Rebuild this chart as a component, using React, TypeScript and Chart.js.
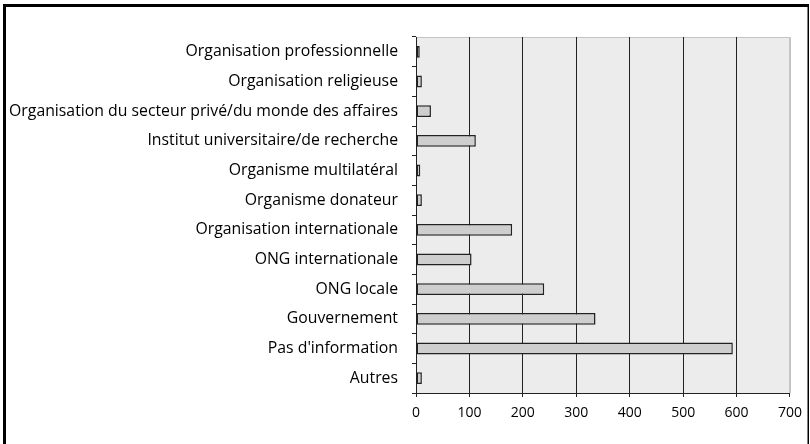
import React, { useEffect, useRef } from "react";
import { Chart, registerables } from "chart.js";

Chart.register(...registerables);

const categories: string[] = [
  "Organisation professionnelle",
  "Organisation religieuse",
  "Organisation du secteur privé/du monde des affaires",
  "Institut universitaire/de recherche",
  "Organisme multilatéral",
  "Organisme donateur",
  "Organisation internationale",
  "ONG internationale",
  "ONG locale",
  "Gouvernement",
  "Pas d'information",
  "Autres",
];

const values: number[] = [7, 11, 28, 112, 8, 11, 180, 104, 240, 336, 593, 11];

const xTicks: number[] = [0, 100, 200, 300, 400, 500, 600, 700];

const FONT = "'Open Sans', sans-serif";

const framePlugin = {
  id: "frameAndBg",
  beforeDraw(chart: any) {
    const { ctx, chartArea } = chart;
    ctx.save();
    ctx.fillStyle = "#ffffff";
    ctx.fillRect(0, 0, chart.width, chart.height);
    ctx.fillStyle = "#ececec";
    ctx.fillRect(chartArea.left, chartArea.top, chartArea.right - chartArea.left, chartArea.bottom - chartArea.top);
    ctx.strokeStyle = "#c4c4c4";
    ctx.lineWidth = 1;
    ctx.beginPath();
    ctx.moveTo(chartArea.left, chartArea.top + 0.5);
    ctx.lineTo(chartArea.right + 0.5, chartArea.top + 0.5);
    ctx.lineTo(chartArea.right + 0.5, chartArea.bottom);
    ctx.stroke();
    ctx.restore();
  },
  afterDraw(chart: any) {
    const { ctx } = chart;
    ctx.save();
    ctx.fillStyle = "#000000";
    ctx.fillRect(3, 4, 3, chart.height);
    ctx.fillRect(3, 4, chart.width - 4, 3);
    ctx.fillRect(chart.width - 2.5, 4, 1.5, chart.height);
    ctx.restore();
  },
};

export default function App() {
  const ref = useRef<HTMLCanvasElement | null>(null);

  useEffect(() => {
    document.body.style.margin = "0";
    if (!ref.current) return;
    const chart = new Chart(ref.current, {
      type: "bar",
      data: {
        labels: categories,
        datasets: [
          {
            data: values,
            backgroundColor: "#cecece",
            borderColor: "#222222",
            borderWidth: 1.5,
            borderSkipped: false,
            barPercentage: 0.4,
            categoryPercentage: 1,
          },
        ],
      },
      options: {
        indexAxis: "y",
        responsive: false,
        animation: false,
        layout: { padding: { left: 0, top: 37, right: 18, bottom: 0 } },
        plugins: { legend: { display: false }, tooltip: { enabled: false } },
        scales: {
          x: {
            min: 0,
            max: 700,
            afterBuildTicks: (scale: any) => {
              scale.ticks = xTicks.map((v) => ({ value: v }));
            },
            afterFit: (scale: any) => {
              scale.height = 51;
            },
            grid: {
              color: (c: any) => (c.tick && c.tick.value === 700 ? "#c4c4c4" : "#222222"),
              lineWidth: 1,
              drawTicks: true,
              tickLength: 4,
              tickColor: "#222222",
            },
            border: { display: true, color: "#222222", width: 1 },
            ticks: {
              color: "#000",
              font: { family: FONT, size: 14 },
              padding: 8,
            },
          },
          y: {
            afterFit: (scale: any) => {
              scale.width = 416;
            },
            grid: {
              drawOnChartArea: false,
              drawTicks: true,
              tickLength: 4,
              color: "#222222",
              offset: true,
            },
            border: { display: true, color: "#222222", width: 1 },
            ticks: {
              color: "#000",
              font: { family: FONT, size: 15.8 },
              padding: 14,
              autoSkip: false,
            },
          },
        },
      },
      plugins: [framePlugin],
    });
    return () => chart.destroy();
  }, []);

  return (
    <div style={{ width: 810, height: 444 }}>
      <canvas ref={ref} width={810} height={444} style={{ display: "block" }} />
    </div>
  );
}
